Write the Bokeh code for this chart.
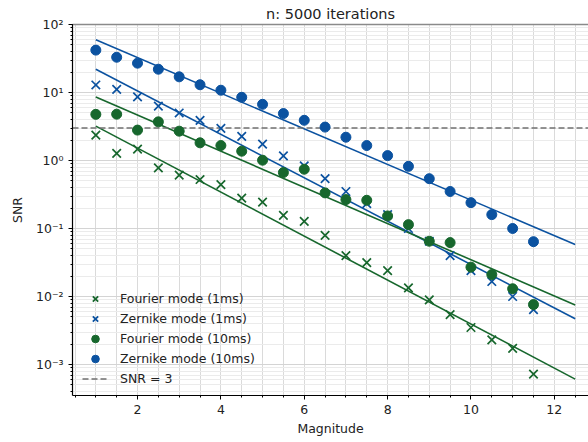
import numpy as np
from bokeh.plotting import figure
from bokeh.models import (Range1d, LogTicker, SingleIntervalTicker, CustomJSTickFormatter,
                          FixedTicker, Legend, LegendItem, LinearAxis)
from bokeh.embed import file_html
from bokeh.resources import INLINE

# ---- data ----
magnitude = [1.0, 1.5, 2.0, 2.5, 3.0, 3.5, 4.0, 4.5, 5.0, 5.5, 6.0,
             6.5, 7.0, 7.5, 8.0, 8.5, 9.0, 9.5, 10.0, 10.5, 11.0, 11.5]
fourier_1ms = [2.36, 1.27, 1.47, 0.78, 0.61, 0.525, 0.443, 0.28, 0.245, 0.156, 0.127,
               0.079, 0.040, 0.0315, 0.024, 0.0134, 0.0089, 0.0054, 0.0035, 0.0023, 0.00173, 0.00072]
zernike_1ms = [12.9, 11.1, 8.6, 6.3, 5.0, 3.9, 2.97, 2.26, 1.74, 1.17, 0.835,
               0.54, 0.35, 0.232, 0.16, 0.10, 0.065, 0.040, 0.024, 0.0166, 0.010, 0.0064]
fourier_10ms = [4.77, 4.8, 2.8, 3.7, 2.7, 1.82, 1.66, 1.37, 1.01, 0.665, 0.744,
                0.334, 0.266, 0.26, 0.153, 0.114, 0.065, 0.062, 0.027, 0.021, 0.013, 0.0076]
zernike_10ms = [42, 33, 27, 22, 17, 13, 10.8, 8.5, 6.7, 4.9, 3.9,
                3.1, 2.2, 1.66, 1.18, 0.82, 0.54, 0.35, 0.24, 0.16, 0.10, 0.064]

fit_mag = [1.0, 12.5]
fourier_1ms_fit = [3.2, 6.1e-4]
zernike_1ms_fit = [22.0, 4.7e-3]
fourier_10ms_fit = [8.6, 7.5e-3]
zernike_10ms_fit = [59.5, 5.8e-2]
snr_threshold = 3

title_text = "n: 5000 iterations"
labels = ["Fourier mode (1ms)", "Zernike mode (1ms)", "Fourier mode (10ms)",
          "Zernike mode (10ms)", "SNR = 3"]

GREEN = "#17672d"
BLUE = "#0b52a0"
GREY = "#707070"
FONT = "DejaVu Sans"

x_lo, x_hi = 0.44, 12.82
p = figure(width=588, height=442, x_range=Range1d(x_lo, x_hi), y_range=Range1d(3.5e-4, 100),
           y_axis_type="log", output_backend="svg", toolbar_location=None,
           min_border_left=72, min_border_right=0, min_border_top=0, min_border_bottom=47)

p.title.text = title_text
p.title.text_font = FONT
p.title.text_font_size = "14.5px"
p.title.text_font_style = "normal"
p.title.align = "center"
p.title.text_color = "#222222"
p.title.offset = 4
p.title.standoff = 6

p.outline_line_color = None
p.background_fill_color = "white"
p.border_fill_color = "white"

xaxis = p.below[0]
yaxis = p.left[0]

# grid
p.xgrid.ticker = SingleIntervalTicker(interval=0.5)
p.xgrid.grid_line_color = "#dadada"
p.xgrid.grid_line_width = 1
p.ygrid.grid_line_color = "#d4d4d4"
p.ygrid.minor_grid_line_color = "#ebebeb"

# axes
xaxis.ticker = SingleIntervalTicker(interval=2, num_minor_ticks=4)
yaxis.ticker = LogTicker(num_minor_ticks=10)
yaxis.formatter = CustomJSTickFormatter(code="""
const e = Math.round(Math.log10(tick));
const sup = {'-':'\u207b','0':'\u2070','1':'\u00b9','2':'\u00b2','3':'\u00b3','4':'\u2074',
             '5':'\u2075','6':'\u2076','7':'\u2077','8':'\u2078','9':'\u2079'};
return '10' + String(e).split('').map(c => sup[c]).join('');
""")
for ax in (xaxis, yaxis):
    ax.axis_line_color = "black"
    ax.axis_line_width = 1.2
    ax.major_tick_line_color = "black"
    ax.minor_tick_line_color = "black"
    ax.major_tick_in = 0
    ax.major_tick_out = 4
    ax.minor_tick_in = 0
    ax.minor_tick_out = 2
    ax.major_label_text_font = FONT
    ax.major_label_text_font_size = "12.5px"
    ax.major_label_text_color = "#222222"
    ax.axis_label_text_font = FONT
    ax.axis_label_text_font_size = "12.5px"
    ax.axis_label_text_font_style = "normal"
    ax.axis_label_text_color = "#222222"
xaxis.axis_label = "Magnitude"
yaxis.axis_label = "SNR"
xaxis.axis_label_standoff = 4
yaxis.axis_label_standoff = 8

# top spine (grey), no ticks or labels
top = LinearAxis(ticker=FixedTicker(ticks=[]), axis_line_color="#8a8a8a", axis_line_width=1.5,
                 major_tick_line_color=None, minor_tick_line_color=None)
p.add_layout(top, "above")

# fit lines
p.line(fit_mag, fourier_1ms_fit, line_color=GREEN, line_width=1.6)
p.line(fit_mag, zernike_1ms_fit, line_color=BLUE, line_width=1.6)
p.line(fit_mag, fourier_10ms_fit, line_color=GREEN, line_width=1.6)
p.line(fit_mag, zernike_10ms_fit, line_color=BLUE, line_width=1.6)

# threshold line across the whole x range
r5 = p.line([x_lo, x_hi], [snr_threshold, snr_threshold], line_color=GREY,
            line_width=1.6, line_dash="6 3")

r1 = p.scatter(magnitude, fourier_1ms, marker="x", size=12, line_width=1.7, color=GREEN)
r2 = p.scatter(magnitude, zernike_1ms, marker="x", size=12, line_width=1.7, color=BLUE)
r3 = p.scatter(magnitude, fourier_10ms, marker="circle", size=10, color=GREEN)
r4 = p.scatter(magnitude, zernike_10ms, marker="circle", size=10, color=BLUE)

legend = Legend(items=[LegendItem(label=l, renderers=[r]) for l, r in
                       zip(labels, [r1, r2, r3, r4, r5])],
                location=(10, 7), border_line_color=None, background_fill_alpha=0,
                label_text_font=FONT, label_text_font_size="12.5px", label_text_color="#222222",
                glyph_width=26, glyph_height=19, label_height=19, spacing=1, padding=4,
                label_standoff=12, margin=0)
p.add_layout(legend, "center")

open("out.html", "w").write(file_html(p, INLINE))
